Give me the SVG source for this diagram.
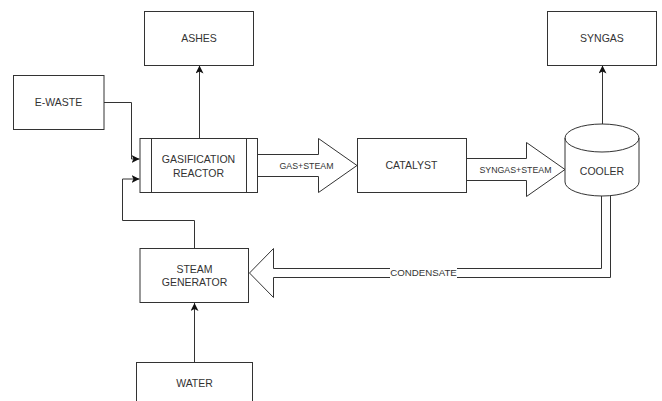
<svg xmlns="http://www.w3.org/2000/svg" width="662" height="401" viewBox="0 0 662 401">
<defs>
<style>
.box{fill:#fff;stroke:#333;stroke-width:1}
.lbl{font-family:"Liberation Sans",Arial,sans-serif;font-size:10.5px;fill:#333;text-anchor:middle;dominant-baseline:central}
.sm{font-size:8.8px}
.conn{fill:none;stroke:#333;stroke-width:1}
.flex{fill:#fff;stroke:#333;stroke-width:1}
</style>
<marker id="arr" viewBox="0 0 10 10" refX="10" refY="5" markerWidth="8" markerHeight="8" markerUnits="userSpaceOnUse" orient="auto">
<path d="M0,0 L10,5 L0,10 L2.5,5 Z" fill="#111"/>
</marker>
</defs>
<rect width="662" height="401" fill="#fff"/>

<g id="connectors">
<path class="conn" d="M104,102.5 H131.5 V159 H139.5" marker-end="url(#arr)"/>
<path class="conn" d="M194.5,248 V220.5 H122.5 V179 H139.5" marker-end="url(#arr)"/>
<path class="conn" d="M199.5,138 V65.5" marker-end="url(#arr)"/>
<path class="conn" d="M602.5,124 V65.5" marker-end="url(#arr)"/>
<path class="conn" d="M194.5,362.5 V303" marker-end="url(#arr)"/>
<path id="gas-steam" class="flex" d="M257.5,154.5 L318.5,154.5 L318.5,138.5 L357,165.5 L318.5,192.5 L318.5,176.5 L257.5,176.5"/>
<text class="lbl sm" x="306.5" y="165.5">GAS+STEAM</text>
<path id="syngas-steam" class="flex" d="M466.5,158.5 L526.5,158.5 L526.5,142.5 L565,169.5 L526.5,196.5 L526.5,180.5 L466.5,180.5"/>
<text class="lbl sm" x="515.5" y="169.5">SYNGAS+STEAM</text>
<path id="condensate" class="flex" d="M601.5,196 L601.5,268.5 L273.5,268.5 L273.5,248.5 L249.5,273 L273.5,297.5 L273.5,277.5 L610.5,277.5 L610.5,196"/>
<rect x="390" y="266" width="67" height="12" fill="#fff"/>
<text class="lbl" style="font-size:9.7px" x="423.5" y="272">CONDENSATE</text>
</g>

<g id="ashes">
<rect class="box" x="144.5" y="11.5" width="109" height="54"/>
<text class="lbl" x="199" y="38">ASHES</text>
</g>
<g id="e-waste">
<rect class="box" x="13.5" y="75.5" width="90.5" height="54"/>
<text class="lbl" x="58.5" y="101.5">E-WASTE</text>
</g>
<g id="gasification-reactor">
<rect class="box" x="140" y="138.5" width="117.5" height="54"/>
<line class="conn" x1="151.5" y1="138.5" x2="151.5" y2="192.5"/>
<line class="conn" x1="246.5" y1="138.5" x2="246.5" y2="192.5"/>
<text class="lbl" x="198.5" y="159">GASIFICATION</text>
<text class="lbl" x="198.5" y="172.5">REACTOR</text>
</g>
<g id="catalyst">
<rect class="box" x="357.5" y="138.5" width="109" height="54"/>
<text class="lbl" x="411.5" y="165">CATALYST</text>
</g>
<g id="cooler">
<path class="box" d="M565,138 A37,14 0 0,1 639,138 L639,182 A37,14 0 0,1 565,182 Z"/>
<path class="conn" d="M565,138 A37,14 0 0,0 639,138"/>
<text class="lbl" x="602" y="171">COOLER</text>
</g>
<g id="syngas">
<rect class="box" x="547.5" y="11.5" width="109" height="54"/>
<text class="lbl" x="602" y="38">SYNGAS</text>
</g>
<g id="steam-generator">
<rect class="box" x="140" y="248.5" width="108.5" height="54"/>
<text class="lbl" x="194.5" y="269">STEAM</text>
<text class="lbl" x="194.5" y="282">GENERATOR</text>
</g>
<g id="water">
<rect class="box" x="136.5" y="362.5" width="116" height="60"/>
<text class="lbl" x="194.5" y="382.5">WATER</text>
</g>
</svg>
